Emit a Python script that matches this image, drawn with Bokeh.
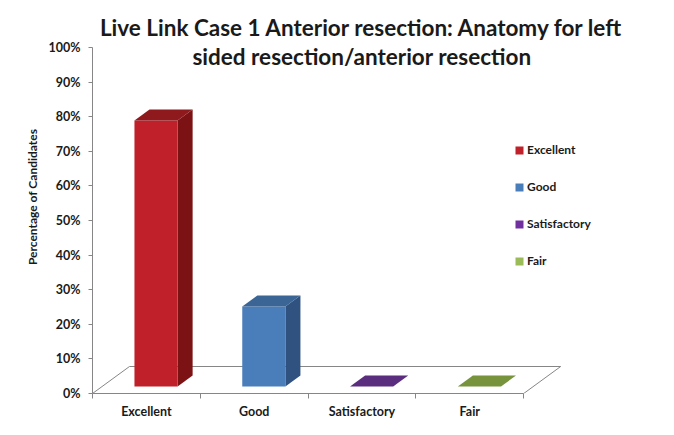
from bokeh.plotting import figure
from bokeh.models import (Range1d, FixedTicker, PrintfTickFormatter, Legend, LegendItem, Label)
from bokeh.embed import file_html
from bokeh.resources import INLINE

# ---- data ----
categories = ["Excellent", "Good", "Satisfactory", "Fair"]
values = [76.9, 23.1, 0.0, 0.0]          # percentage of candidates
front_colors = ["#C0202A", "#4A7EBB", "#7030A0", "#9BBB59"]
side_colors = ["#7D1214", "#2F5280", "#4A2068", "#5F7A2E"]
top_colors = ["#8F1A1E", "#3A6595", "#5A2D7E", "#77933C"]
y_ticks = [0, 10, 20, 30, 40, 50, 60, 70, 80, 90, 100]
title_lines = ["Live Link Case 1 Anterior resection: Anatomy for left",
               "sided resection/anterior resection"]
y_label = "Percentage of Candidates"

# ---- 3D projection parameters (in data units) ----
FDX, FDY = 0.343, 7.8       # full floor depth offset
T0, T1 = 0.26, 0.667        # bar front / back depth fraction
BAR_W = 0.40

FONT = "Lato"

p = figure(frame_width=539, frame_height=393, output_backend="svg", toolbar_location=None,
           x_range=Range1d(0, 5), y_range=Range1d(0, 100 * 393 / 346),
           min_border_left=92, min_border_right=27, min_border_top=0, min_border_bottom=26)
p.outline_line_color = None
p.xgrid.visible = False
p.ygrid.visible = False
p.background_fill_color = "white"
p.border_fill_color = "white"

n = len(categories)
# floor
p.patch([0, n, n + FDX, FDX], [0, 0, FDY, FDY], fill_color="white",
        line_color="#868686", line_width=1)

legend_items = []
for i, (cat, v) in enumerate(zip(categories, values)):
    c = i + 0.5
    xl = c - BAR_W / 2 + T0 * FDX
    xr = c + BAR_W / 2 + T0 * FDX
    yb = T0 * FDY
    yt = yb + v
    ddx = (T1 - T0) * FDX
    ddy = (T1 - T0) * FDY
    if v > 0:
        p.patch([xr, xr + ddx, xr + ddx, xr], [yb, yb + ddy, yt + ddy, yt],
                fill_color=side_colors[i], line_color=None)
        p.quad(left=[xl], right=[xr], bottom=[yb], top=[yt],
               fill_color=front_colors[i], line_color=None)
    p.patch([xl, xr, xr + ddx, xl + ddx], [yt, yt, yt + ddy, yt + ddy],
            fill_color=top_colors[i], line_color=None)
    # zero-area swatch renderer used only for the legend colour
    swatch = p.quad(left=[0], right=[0], bottom=[0], top=[0],
                    fill_color=front_colors[i], line_color=None)
    legend_items.append(LegendItem(label=cat, renderers=[swatch]))

legend = Legend(items=legend_items, location=(422, 125), orientation="vertical",
                glyph_width=10, glyph_height=10, label_height=10, spacing=22,
                label_text_font=FONT, label_text_font_style="bold",
                label_text_font_size="12px", label_text_color="#1a1a1a",
                background_fill_alpha=0, border_line_color=None, padding=0, margin=0,
                label_standoff=3)
p.add_layout(legend, "center")

# y axis
ya = p.yaxis[0]
ya.ticker = FixedTicker(ticks=y_ticks, minor_ticks=[])
ya.formatter = PrintfTickFormatter(format="%d%%")
ya.bounds = (0, 100)
ya.axis_line_color = "#868686"
ya.major_tick_line_color = "#868686"
ya.major_tick_in = 0
ya.major_tick_out = 4
ya.minor_tick_out = 0
ya.minor_tick_in = 0
ya.major_label_standoff = 8
ya.major_label_text_font = FONT
ya.major_label_text_font_style = "bold"
ya.major_label_text_font_size = "12.5px"
ya.major_label_text_color = "#1a1a1a"
ya.axis_label = y_label
ya.axis_label_text_font = FONT
ya.axis_label_text_font_style = "bold"
ya.axis_label_text_font_size = "12px"
ya.axis_label_text_color = "#1a1a1a"
ya.axis_label_standoff = 6

# x axis
xa = p.xaxis[0]
xa.ticker = FixedTicker(ticks=[i + 0.5 for i in range(n)], minor_ticks=list(range(n + 1)))
xa.major_label_overrides = {i + 0.5: cat for i, cat in enumerate(categories)}
xa.bounds = (0, n)
xa.axis_line_color = "#868686"
xa.major_tick_in = 0
xa.major_tick_out = 0
xa.minor_tick_in = 0
xa.minor_tick_out = 5
xa.minor_tick_line_color = "#868686"
xa.major_label_standoff = 5
xa.major_label_text_font = FONT
xa.major_label_text_font_style = "bold"
xa.major_label_text_font_size = "12.5px"
xa.major_label_text_color = "#1a1a1a"

# title (two lines)
for line, yv in zip(title_lines, [105.9, 97.5]):
    p.add_layout(Label(x=n / 2 + 0.5, y=yv, text=line, text_align="center",
                       text_baseline="middle", text_font=FONT, text_font_style="bold",
                       text_font_size="22.5px", text_color="#1a1a1a"))

open("out.html", "w").write(file_html(p, INLINE))
